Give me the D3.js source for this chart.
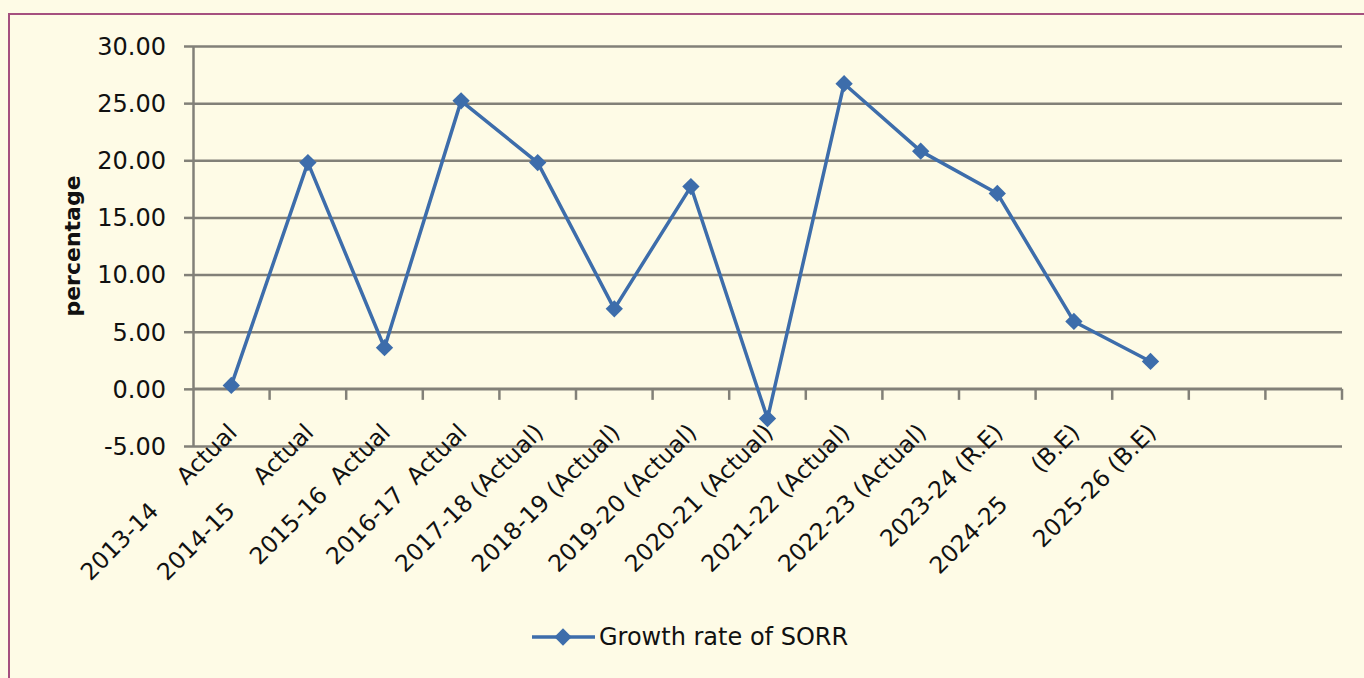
<!DOCTYPE html>
<html>
<head>
<meta charset="utf-8">
<script src="https://cdn.jsdelivr.net/npm/d3@7"></script>
<style>
  body { margin: 0; background: #fefbe6; }
  svg { display: block; }
  .xlab { white-space: pre; }
</style>
</head>
<body>
<svg id="chart"></svg>
<script>
// categories (two trailing empty slots as in the original sheet)
const categories = [
  "2013-14     Actual", "2014-15     Actual", "2015-16  Actual", "2016-17  Actual",
  "2017-18 (Actual)", "2018-19 (Actual)", "2019-20 (Actual)", "2020-21 (Actual)",
  "2021-22 (Actual)", "2022-23 (Actual)", "2023-24 (R.E)", "2024-25      (B.E)",
  "2025-26 (B.E)", "", ""
];
const growth = [0.3, 19.8, 3.6, 25.2, 19.8, 7.0, 17.7, -2.6, 26.7, 20.8, 17.1, 5.9, 2.4];
const yTicks = [-5, 0, 5, 10, 15, 20, 25, 30];
const seriesName = "Growth rate of SORR";

const W = 1364, H = 678;
const margin = {left: 193, right: 22, top: 46, bottom: 232};
const blue = "#3d6dab", grid = "#828078";

const svg = d3.select("#chart").attr("width", W).attr("height", H);

svg.append("rect").attr("width", W).attr("height", H).attr("fill", "#fefbe6");
// frame (only left/top edges visible in the picture)
svg.append("rect")
  .attr("x", 9).attr("y", 14).attr("width", W + 20).attr("height", H + 20)
  .attr("fill", "none").attr("stroke", "#a5507f").attr("stroke-width", 2);

const x = d3.scaleBand()
  .domain(d3.range(categories.length))
  .range([margin.left, W - margin.right])
  .padding(0);
const y = d3.scaleLinear()
  .domain([-5, 30])
  .range([H - margin.bottom, margin.top]);

const fmt = d => d3.format(".2f")(d).replace("\u2212", "-");

// gridlines + y axis
svg.append("g")
  .attr("transform", `translate(${margin.left},0)`)
  .call(d3.axisLeft(y).tickValues(yTicks).tickFormat(fmt).tickSize(9).tickSizeOuter(0))
  .call(g => g.select(".domain").attr("stroke", grid).attr("stroke-width", 2.5))
  .call(g => g.selectAll(".tick line").attr("stroke", grid).attr("stroke-width", 2.5))
  .call(g => g.selectAll(".tick").append("line")
    .attr("x1", 0).attr("x2", W - margin.right - margin.left)
    .attr("stroke", grid).attr("stroke-width", 2.5))
  .call(g => g.selectAll(".tick text")
    .attr("x", -27).attr("dy", "0.35em")
    .attr("fill", "#111").attr("font-family", "DejaVu Sans").attr("font-size", 24));

// x axis at zero with boundary ticks
const bounds = d3.range(categories.length + 1).map(i => i < categories.length ? x(i) : x.range()[1]);
const xg = svg.append("g");
xg.append("line")
  .attr("x1", x.range()[0]).attr("x2", x.range()[1])
  .attr("y1", y(0)).attr("y2", y(0))
  .attr("stroke", grid).attr("stroke-width", 2.5);
xg.selectAll(".btick").data(bounds.slice(1)).join("line")
  .attr("x1", d => d).attr("x2", d => d)
  .attr("y1", y(0)).attr("y2", y(0) + 11)
  .attr("stroke", grid).attr("stroke-width", 2.5);

xg.selectAll(".xlab").data(categories).join("text")
  .attr("class", "xlab")
  .attr("transform", (d, i) => `translate(${x(i) + x.bandwidth() / 2 + 7},${y(0) + 45}) rotate(-45)`)
  .attr("text-anchor", "end")
  .attr("fill", "#111")
  .attr("font-family", "DejaVu Sans")
  .attr("font-size", 23.5)
  .text(d => d);

// y title
svg.append("text")
  .attr("transform", `translate(80,246) rotate(-90)`)
  .attr("text-anchor", "middle")
  .attr("font-family", "DejaVu Sans")
  .attr("font-weight", "bold")
  .attr("font-size", 22)
  .attr("fill", "#111")
  .text("percentage");

// series
const pts = growth.map((v, i) => [x(i) + x.bandwidth() / 2, y(v)]);
svg.append("path")
  .datum(pts)
  .attr("fill", "none")
  .attr("stroke", blue)
  .attr("stroke-width", 3.5)
  .attr("stroke-linejoin", "round")
  .attr("d", d3.line());

const diamond = d3.symbol().type(d3.symbolSquare).size(150);
svg.selectAll(".pt").data(pts).join("path")
  .attr("transform", d => `translate(${d[0]},${d[1]}) rotate(45)`)
  .attr("fill", blue)
  .attr("d", diamond);

// legend
const lg = svg.append("g").attr("transform", "translate(532,637)");
lg.append("line").attr("x1", 0).attr("x2", 63).attr("stroke", blue).attr("stroke-width", 3.5);
lg.append("path").attr("transform", "translate(31,0) rotate(45)").attr("fill", blue).attr("d", diamond);
lg.append("text")
  .attr("x", 67).attr("dy", "0.35em")
  .attr("font-family", "DejaVu Sans").attr("font-size", 24).attr("fill", "#111")
  .text(seriesName);
</script>
</body>
</html>
